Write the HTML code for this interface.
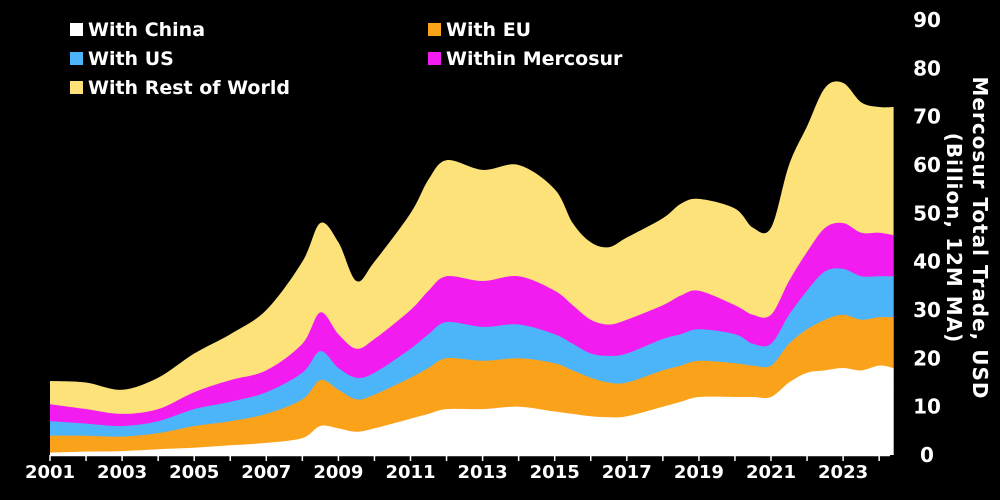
<!DOCTYPE html>
<html><head><meta charset="utf-8">
<style>
html,body{margin:0;padding:0;background:#000;}
svg{display:block;font-family:"DejaVu Sans","Liberation Sans",sans-serif;font-weight:bold;}
</style></head>
<body>
<svg id="chart" width="1000" height="500" viewBox="0 0 1000 500">
<rect width="1000" height="500" fill="#000"/>
<g id="areas"></g>
<g id="yaxis"></g>
<g id="xaxis"></g>
<text transform="translate(960,238) rotate(90)" text-anchor="middle" fill="#fff" font-size="20" letter-spacing="1"><tspan x="0" dy="-13">Mercosur Total Trade, USD</tspan><tspan x="0" dy="26">(Billion, 12M MA)</tspan></text>
<g id="legend"></g>
</svg>
<script>
const dates=[2001,2002,2003,2004,2005,2006,2007,2008,2008.5,2009,2009.5,2010,2011,2011.5,2012,2013,2014,2015,2015.5,2016,2016.5,2017,2018,2018.5,2019,2020,2020.5,2021,2021.5,2022,2022.5,2023,2023.5,2024,2024.4];
const china=[0.5,0.7,0.8,1.2,1.5,2,2.5,3.5,6,5.5,4.8,5.5,7.5,8.5,9.5,9.5,10,9,8.5,8,7.8,8,10,11,12,12,12,12,15,17,17.5,18,17.5,18.5,18];
const eu=[3.5,3.3,3,3.3,4.5,5,6,8,9.5,8,6.7,7,8.5,9.5,10.5,10,10,10,9,8,7.2,7,7.5,7.5,7.5,7,6.5,6.5,8,9,10.5,11,10.5,10,10.5];
const us=[3,2.5,2.2,2.5,3.5,4,4.5,5.5,6,4.5,4.5,4.5,6,7,7.5,7,7,6,5.5,5,5.5,6,6.5,6.5,6.5,6,4.5,4.5,6,8,10,9.5,9,8.5,8.5];
const mercosur=[3.5,3,2.5,2.5,3.5,4.5,4.5,6,8,7,6,7,8,9,9.5,9.5,10,9,8,7,6.5,7,7,8,8,6,6,6,7,8,9,9.5,9,9,8.5];
const rest=[4.8,5.5,5,6.5,8,9.5,12.5,17,18.5,19,14,16,20,23,24,23,23,21,17,16,16,17,18,19,19,20,18,18,24,26,29,29,27,26,26.5];
const yTicks=[0,10,20,30,40,50,60,70,80,90];
const xTicks=[2001,2003,2005,2007,2009,2011,2013,2015,2017,2019,2021,2023];
const seriesNames=["With China","With EU","With US","Within Mercosur","With Rest of World"];
const colors=["#ffffff","#fba21b","#4cb4f9","#f21cf0","#fde27a"];

const NS="http://www.w3.org/2000/svg";
const X=d=>50+(d-2001)*36.05;
const Y=v=>455-v*4.833;
function mk(t,a,p){const e=document.createElementNS(NS,t);for(const k in a)e.setAttribute(k,a[k]);p.appendChild(e);return e;}
function curve(pts){let s="";for(let i=0;i<pts.length-1;i++){const p0=pts[Math.max(0,i-1)],p1=pts[i],p2=pts[i+1],p3=pts[Math.min(pts.length-1,i+2)];
const c1=[p1[0]+(p2[0]-p0[0])/6,p1[1]+(p2[1]-p0[1])/6],c2=[p2[0]-(p3[0]-p1[0])/6,p2[1]-(p3[1]-p1[1])/6];
s+=` C${c1[0].toFixed(1)},${c1[1].toFixed(1)} ${c2[0].toFixed(1)},${c2[1].toFixed(1)} ${p2[0].toFixed(1)},${p2[1].toFixed(1)}`;}return s;}
const all=[china,eu,us,mercosur,rest];
const areas=document.getElementById('areas');
let base=dates.map(()=>0);
const tops=[];
all.forEach(s=>{const top=base.map((b,i)=>b+s[i]);tops.push({lo:base,hi:top});base=top;});
const keys=["area-china","area-eu","area-us","area-mercosur","area-rest-of-world"];
for(let k=all.length-1;k>=0;k--){
 const hi=tops[k].hi.map((v,i)=>[X(dates[i]),Y(v)]);
 let d=`M${hi[0][0]},${Y(0)} L${hi[0][0]},${hi[0][1]}`+curve(hi)+` L${hi[hi.length-1][0]},${Y(0)} Z`;
 const p=mk('path',{d:d,fill:colors[k]},areas);
 
 
}
const ya=document.getElementById('yaxis');
yTicks.forEach(t=>{const e=mk('text',{x:927,y:Y(t)+7,'text-anchor':'middle',fill:'#fff','font-size':20},ya);e.textContent=t;

});
const xa=document.getElementById('xaxis');
const ln=mk('line',{x1:50,x2:890,y1:455.5,y2:455.5,stroke:'#fff','stroke-width':1.5},xa);


for(let yr=2001;yr<=2024;yr++){const l=mk('line',{x1:X(yr),x2:X(yr),y1:455,y2:461,stroke:'#fff','stroke-width':1.5},xa);

}
xTicks.forEach(t=>{const e=mk('text',{x:X(t),y:478,'text-anchor':'middle',fill:'#fff','font-size':18},xa);e.textContent=t;

});
const lg=document.getElementById('legend');
const lpos=[[70,35],[428,35],[70,64],[428,64],[70,93]];
seriesNames.forEach((n,i)=>{const g=mk('g',{},lg);


mk('rect',{x:lpos[i][0],y:lpos[i][1]-12,width:13,height:13,fill:colors[i]},g);
const t=mk('text',{x:lpos[i][0]+18,y:lpos[i][1]+1,fill:'#fff','font-size':19},g);t.textContent=n;});
</script>
</body></html>
